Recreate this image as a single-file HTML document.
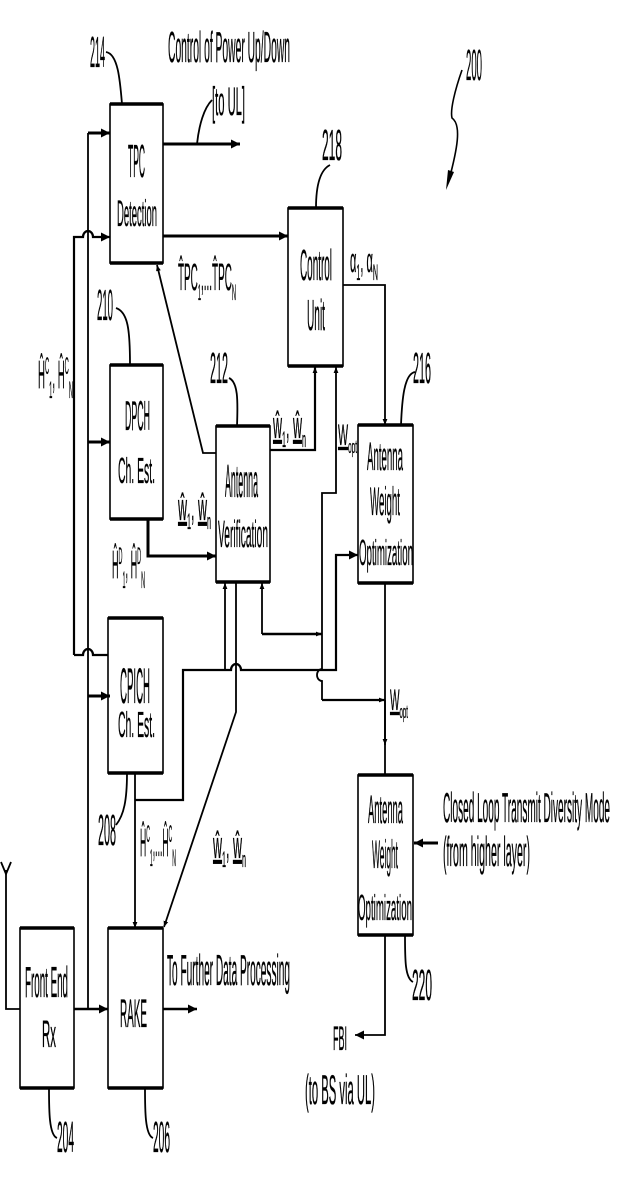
<!DOCTYPE html>
<html><head><meta charset="utf-8"><style>
html,body{margin:0;padding:0;background:#fff;}
svg{display:block;}
text{font-family:"Liberation Sans Narrow","Liberation Sans",sans-serif;fill:#000;stroke:#000;stroke-width:0.35;}
</style></head><body>
<svg width="622" height="1200" viewBox="0 0 622 1200" xmlns="http://www.w3.org/2000/svg">
<defs>
<marker id="a" viewBox="0 0 10 10" refX="10" refY="5" markerWidth="6" markerHeight="6" orient="auto-start-reverse" markerUnits="userSpaceOnUse"><path d="M0,1 L10,5 L0,9 z" fill="#000"/></marker>
<marker id="A" viewBox="0 0 10 10" refX="10" refY="5" markerWidth="11" markerHeight="9" orient="auto" markerUnits="userSpaceOnUse"><path d="M0,0 L10,5 L0,10 z" fill="#000"/></marker>
</defs>
<g fill="none" stroke="#000" stroke-width="1.6">
<rect x="110" y="104" width="53" height="159"/>
<rect x="110" y="365" width="53" height="154"/>
<rect x="216" y="426" width="54" height="156"/>
<rect x="288" y="208" width="55" height="158"/>
<rect x="358" y="425" width="55" height="158"/>
<rect x="108" y="618" width="55" height="155"/>
<rect x="20" y="928" width="54" height="160"/>
<rect x="108" y="928" width="55" height="160"/>
<rect x="358" y="775" width="55" height="160"/>
</g>
<g stroke="#000" stroke-width="3.5">
<line x1="110" y1="104" x2="163" y2="104"/><line x1="110" y1="263" x2="163" y2="263"/>
<line x1="110" y1="365" x2="163" y2="365"/><line x1="110" y1="519" x2="163" y2="519"/>
<line x1="216" y1="426" x2="270" y2="426"/><line x1="216" y1="582" x2="270" y2="582"/>
<line x1="288" y1="208" x2="343" y2="208"/><line x1="288" y1="366" x2="343" y2="366"/>
<line x1="358" y1="425" x2="413" y2="425"/><line x1="358" y1="583" x2="413" y2="583"/>
<line x1="108" y1="618" x2="163" y2="618"/><line x1="108" y1="773" x2="163" y2="773"/>
<line x1="20" y1="928" x2="74" y2="928"/><line x1="20" y1="1088" x2="74" y2="1088"/>
<line x1="108" y1="928" x2="163" y2="928"/><line x1="108" y1="1088" x2="163" y2="1088"/>
<line x1="358" y1="775" x2="413" y2="775"/><line x1="358" y1="935" x2="413" y2="935"/>
</g>
<g fill="none" stroke="#000" stroke-width="1.8">
<path d="M88,1009 V133"/>
<path d="M88,133 H110" stroke-width="3" marker-end="url(#A)"/>
<path d="M88,442 H110" stroke-width="3" marker-end="url(#A)"/>
<path d="M88,696 H110" stroke-width="3" marker-end="url(#A)"/>
<path d="M74,655 V237 H83 a5,6 0 0 1 10,0 H110" stroke-width="2.2" marker-end="url(#A)"/>
<path d="M74,655 H83 a5,6 0 0 1 10,0 H108" stroke-width="2.2"/>
<path d="M6,870 V1009 H20"/>
<path d="M1,862 L6,874 L11,862"/>
<path d="M74,1009 H108" stroke-width="2.5" marker-end="url(#A)"/>
<path d="M163,1009 H197" stroke-width="2.5" marker-end="url(#A)"/>
<path d="M163,144 H240" stroke-width="3" marker-end="url(#A)"/>
<path d="M163,236 H288" stroke-width="3" marker-end="url(#A)"/>
<path d="M216,453 H203 L157,265" marker-end="url(#a)"/>
<path d="M148,519 V556 H216" stroke-width="3" marker-end="url(#A)"/>
<path d="M270,450 H315 V367" stroke-width="2.2" marker-end="url(#a)"/>
<path d="M322,700 V681 a5,6 0 0 1 0,-12 V493 H336 V367" marker-end="url(#a)"/>
<path d="M322,700 H385" stroke-width="2.2" marker-end="url(#a)"/>
<path d="M343,285 H385 V425" marker-end="url(#a)"/>
<path d="M262,634 V583" marker-end="url(#a)"/>
<path d="M262,634 H322" stroke-width="2.5" marker-end="url(#a)"/>
<path d="M135,773 V928" marker-end="url(#a)"/>
<path d="M135,800 H183 V670 H231 a5,6 0 0 1 10,0 H336 V555 H358" stroke-width="2.2" marker-end="url(#A)"/>
<path d="M225,670 V583" marker-end="url(#a)"/>
<path d="M236,583 V712 L164,927" marker-end="url(#a)"/>
<path d="M385,583 V775"/>
<path d="M385,700 V745" marker-end="url(#a)"/>
<path d="M438,843 H414" stroke-width="3" marker-end="url(#A)"/>
<path d="M385,935 V1035 H355" stroke-width="1.8" marker-end="url(#A)"/>
<path d="M106,52 C118,54 120,80 122,104"/>
<path d="M197,144 C199,125 204,108 212,100"/>
<path d="M116,308 C128,312 130,330 130,365"/>
<path d="M229,378 C238,382 238,400 237,426"/>
<path d="M330,165 C320,170 316,185 316,208"/>
<path d="M415,372 C404,374 402,400 401,425"/>
<path d="M127,773 C127,800 124,815 116,825"/>
<path d="M49,1088 C49,1110 49,1135 57,1138"/>
<path d="M145,1088 C145,1110 145,1135 153,1138"/>
<path d="M405,935 C405,960 405,978 413,982"/>
<path d="M462,70 C455,90 450,110 452,118 C462,125 457,150 449,180" stroke-width="1.6"/>
</g>
<path d="M446,190 L448,170 L454,172 z" fill="#000"/>
<g font-size="44">
<text x="90" y="67" textLength="15" lengthAdjust="spacingAndGlyphs">214</text>
<text x="168" y="62" font-size="44" textLength="122" lengthAdjust="spacingAndGlyphs">Control of Power Up/Down</text>
<text x="212" y="115" font-size="40" textLength="33" lengthAdjust="spacingAndGlyphs">[to UL]</text>
<text x="466" y="80" font-size="44" textLength="16" lengthAdjust="spacingAndGlyphs">200</text>
<text x="128" y="177" font-size="46" textLength="17" lengthAdjust="spacingAndGlyphs">TPC</text>
<text x="117" y="226" font-size="37" textLength="40" lengthAdjust="spacingAndGlyphs">Detection</text>
<text x="322" y="160" font-size="44" textLength="20" lengthAdjust="spacingAndGlyphs">218</text>
<text x="178" y="290" font-size="38" textLength="58" lengthAdjust="spacingAndGlyphs">T̂PC<tspan font-size="22" dy="10">1</tspan><tspan dy="-10">,...T̂PC</tspan><tspan font-size="22" dy="10">N</tspan></text>
<text x="300" y="280" font-size="44" textLength="32" lengthAdjust="spacingAndGlyphs">Control</text>
<text x="307" y="330" font-size="44" textLength="18" lengthAdjust="spacingAndGlyphs">Unit</text>
<text x="350" y="272" font-size="34" textLength="28" lengthAdjust="spacingAndGlyphs">α<tspan font-size="22" dy="8">1</tspan><tspan dy="-8">, α</tspan><tspan font-size="22" dy="8">N</tspan></text>
<text x="97" y="320" textLength="16" lengthAdjust="spacingAndGlyphs">210</text>
<text x="38" y="388" font-size="40" textLength="35" lengthAdjust="spacingAndGlyphs">Ĥ<tspan font-size="24" dy="-14">C</tspan><tspan font-size="24" dy="24">1</tspan><tspan dy="-10">, Ĥ</tspan><tspan font-size="24" dy="-14">C</tspan><tspan font-size="24" dy="24">N</tspan></text>
<text x="125" y="430" font-size="42" textLength="25" lengthAdjust="spacingAndGlyphs">DPCH</text>
<text x="118" y="483" font-size="36" textLength="37" lengthAdjust="spacingAndGlyphs">Ch. Est.</text>
<text x="210" y="383" textLength="18" lengthAdjust="spacingAndGlyphs">212</text>
<text x="273" y="438" font-size="38" textLength="33" lengthAdjust="spacingAndGlyphs"><tspan text-decoration="underline">ŵ</tspan><tspan font-size="22" dy="9">1</tspan><tspan dy="-9">, </tspan><tspan text-decoration="underline">ŵ</tspan><tspan font-size="22" dy="9">n</tspan></text>
<text x="338" y="445" font-size="30" textLength="19" lengthAdjust="spacingAndGlyphs"><tspan text-decoration="underline">W</tspan><tspan font-size="18" dy="8">opt</tspan></text>
<text x="413" y="383" textLength="18" lengthAdjust="spacingAndGlyphs">216</text>
<text x="225" y="497" font-size="46" textLength="33" lengthAdjust="spacingAndGlyphs">Antenna</text>
<text x="218" y="547" font-size="38" textLength="50" lengthAdjust="spacingAndGlyphs">Verification</text>
<text x="178" y="520" font-size="38" textLength="33" lengthAdjust="spacingAndGlyphs"><tspan text-decoration="underline">ŵ</tspan><tspan font-size="22" dy="9">1</tspan><tspan dy="-9">, </tspan><tspan text-decoration="underline">ŵ</tspan><tspan font-size="22" dy="9">n</tspan></text>
<text x="367" y="470" font-size="40" textLength="36" lengthAdjust="spacingAndGlyphs">Antenna</text>
<text x="370" y="515" font-size="40" textLength="30" lengthAdjust="spacingAndGlyphs">Weight</text>
<text x="359" y="565" font-size="36" textLength="54" lengthAdjust="spacingAndGlyphs">Optimization</text>
<text x="112" y="578" font-size="40" textLength="33" lengthAdjust="spacingAndGlyphs">Ĥ<tspan font-size="24" dy="-14">D</tspan><tspan font-size="24" dy="24">1</tspan><tspan dy="-10">, Ĥ</tspan><tspan font-size="24" dy="-14">D</tspan><tspan font-size="24" dy="24">N</tspan></text>
<text x="120" y="703" font-size="50" textLength="30" lengthAdjust="spacingAndGlyphs">CPICH</text>
<text x="118" y="737" font-size="36" textLength="37" lengthAdjust="spacingAndGlyphs">Ch. Est.</text>
<text x="390" y="710" font-size="30" textLength="18" lengthAdjust="spacingAndGlyphs"><tspan text-decoration="underline">W</tspan><tspan font-size="18" dy="8">opt</tspan></text>
<text x="98" y="845" textLength="18" lengthAdjust="spacingAndGlyphs">208</text>
<text x="140" y="856" font-size="40" textLength="36" lengthAdjust="spacingAndGlyphs">Ĥ<tspan font-size="24" dy="-14">C</tspan><tspan font-size="24" dy="24">1</tspan><tspan dy="-10">,...Ĥ</tspan><tspan font-size="24" dy="-14">C</tspan><tspan font-size="24" dy="24">N</tspan></text>
<text x="213" y="858" font-size="38" textLength="33" lengthAdjust="spacingAndGlyphs"><tspan text-decoration="underline">ŵ</tspan><tspan font-size="22" dy="9">1</tspan><tspan dy="-9">, </tspan><tspan text-decoration="underline">ŵ</tspan><tspan font-size="22" dy="9">n</tspan></text>
<text x="368" y="823" font-size="40" textLength="35" lengthAdjust="spacingAndGlyphs">Antenna</text>
<text x="372" y="868" font-size="40" textLength="26" lengthAdjust="spacingAndGlyphs">Weight</text>
<text x="358" y="920" font-size="36" textLength="54" lengthAdjust="spacingAndGlyphs">Optimization</text>
<text x="443" y="822" font-size="42" textLength="167" lengthAdjust="spacingAndGlyphs">Closed Loop Transmit Diversity Mode</text>
<text x="443" y="866" font-size="42" textLength="87" lengthAdjust="spacingAndGlyphs">(from higher layer)</text>
<text x="167" y="985" font-size="44" textLength="123" lengthAdjust="spacingAndGlyphs">To Further Data Processing</text>
<text x="25" y="997" font-size="44" textLength="43" lengthAdjust="spacingAndGlyphs">Front End</text>
<text x="42" y="1047" font-size="38" textLength="14" lengthAdjust="spacingAndGlyphs">Rx</text>
<text x="120" y="1027" font-size="40" textLength="27" lengthAdjust="spacingAndGlyphs">RAKE</text>
<text x="412" y="1000" textLength="20" lengthAdjust="spacingAndGlyphs">220</text>
<text x="333" y="1050" font-size="34" textLength="14" lengthAdjust="spacingAndGlyphs">FBI</text>
<text x="305" y="1104" font-size="42" textLength="70" lengthAdjust="spacingAndGlyphs">(to BS via UL)</text>
<text x="57" y="1152" textLength="17" lengthAdjust="spacingAndGlyphs">204</text>
<text x="153" y="1152" textLength="17" lengthAdjust="spacingAndGlyphs">206</text>
</g>
</svg>
</body></html>
